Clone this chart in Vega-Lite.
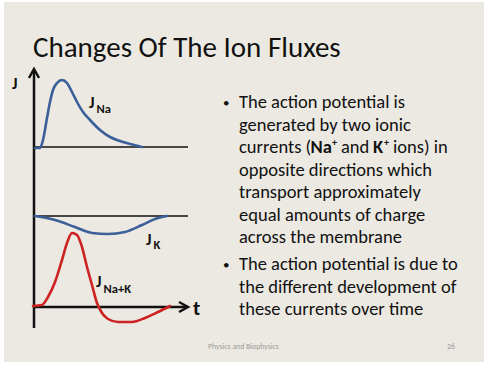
{
  "$schema": "https://vega.github.io/schema/vega-lite/v6.json",
  "width": 491,
  "height": 374,
  "autosize": {"type": "fit", "contains": "padding"},
  "padding": 0,
  "background": "white",
  "config": {"view": {"stroke": null}, "text": {"font": "Calibri, Carlito, Lato", "baseline": "alphabetic", "align": "left", "color": "#111111"}},
  "encoding": {
    "x": {"field": "x", "type": "quantitative", "scale": {"domain": [0, 491], "nice": false, "zero": false}, "axis": null},
    "y": {"field": "y", "type": "quantitative", "scale": {"domain": [0, 374], "reverse": true, "nice": false, "zero": false}, "axis": null}
  },
  "layer": [
    {
      "data": {"values": [{"x": 4, "y": 2, "x2": 484, "y2": 362}]},
      "mark": {"type": "rect", "color": "#ece9e2"},
      "encoding": {"x2": {"field": "x2"}, "y2": {"field": "y2"}}
    },
    {
      "data": {"values": [
        {"x": 34, "y": 147, "x2": 188, "y2": 147},
        {"x": 34, "y": 216, "x2": 188, "y2": 216}
      ]},
      "mark": {"type": "rule", "color": "#111111", "strokeWidth": 1.4},
      "encoding": {"x2": {"field": "x2"}, "y2": {"field": "y2"}}
    },
    {
      "data": {"values": [
        {"x": 34, "y": 70, "x2": 34, "y2": 328},
        {"x": 33, "y": 307, "x2": 187, "y2": 307}
      ]},
      "mark": {"type": "rule", "color": "#111111", "strokeWidth": 2.5},
      "encoding": {"x2": {"field": "x2"}, "y2": {"field": "y2"}}
    },
    {
      "data": {"values": [{"x": 34, "y": 69}]},
      "mark": {"type": "point", "shape": "M-1,1.8L0,0L1,1.8", "size": 100, "filled": false, "stroke": "#111111", "strokeWidth": 2.5, "opacity": 1}
    },
    {
      "data": {"values": [{"x": 188, "y": 307}]},
      "mark": {"type": "point", "shape": "M-1.8,-1L0,0L-1.8,1", "size": 100, "filled": false, "stroke": "#111111", "strokeWidth": 2.5, "opacity": 1}
    },
    {
      "data": {"values": [
        {"s": "Na", "x": 35, "y": 148}, {"s": "Na", "x": 40, "y": 148}, {"s": "Na", "x": 43, "y": 140},
        {"s": "Na", "x": 47, "y": 118}, {"s": "Na", "x": 50, "y": 102}, {"s": "Na", "x": 53, "y": 90},
        {"s": "Na", "x": 57, "y": 83}, {"s": "Na", "x": 62, "y": 80}, {"s": "Na", "x": 67, "y": 83},
        {"s": "Na", "x": 72, "y": 92}, {"s": "Na", "x": 77, "y": 102}, {"s": "Na", "x": 83, "y": 112},
        {"s": "Na", "x": 90, "y": 120}, {"s": "Na", "x": 100, "y": 130}, {"s": "Na", "x": 110, "y": 137},
        {"s": "Na", "x": 120, "y": 141}, {"s": "Na", "x": 130, "y": 144}, {"s": "Na", "x": 142, "y": 147},
        {"s": "K", "x": 35, "y": 216}, {"s": "K", "x": 55, "y": 220}, {"s": "K", "x": 75, "y": 227},
        {"s": "K", "x": 92, "y": 233}, {"s": "K", "x": 108, "y": 234}, {"s": "K", "x": 125, "y": 232},
        {"s": "K", "x": 142, "y": 225}, {"s": "K", "x": 155, "y": 219}, {"s": "K", "x": 167, "y": 216},
        {"s": "NaK", "x": 33, "y": 306}, {"s": "NaK", "x": 42, "y": 305}, {"s": "NaK", "x": 48, "y": 297},
        {"s": "NaK", "x": 55, "y": 282}, {"s": "NaK", "x": 62, "y": 260}, {"s": "NaK", "x": 67, "y": 243},
        {"s": "NaK", "x": 72, "y": 233}, {"s": "NaK", "x": 77, "y": 235}, {"s": "NaK", "x": 82, "y": 247},
        {"s": "NaK", "x": 87, "y": 267}, {"s": "NaK", "x": 92, "y": 285}, {"s": "NaK", "x": 97, "y": 303},
        {"s": "NaK", "x": 102, "y": 313}, {"s": "NaK", "x": 108, "y": 319}, {"s": "NaK", "x": 118, "y": 322},
        {"s": "NaK", "x": 132, "y": 322}, {"s": "NaK", "x": 145, "y": 318}, {"s": "NaK", "x": 158, "y": 312},
        {"s": "NaK", "x": 170, "y": 306}
      ]},
      "mark": {"type": "line", "interpolate": "monotone", "strokeWidth": 2.6, "strokeCap": "round"},
      "encoding": {
        "color": {"field": "s", "type": "nominal", "scale": {"domain": ["Na", "K", "NaK"], "range": ["#3b5f99", "#3b5f99", "#cc2222"]}, "legend": null}
      }
    },
    {
      "data": {"values": [
        {"x": 12, "y": 89, "text": "J"},
        {"x": 89, "y": 108, "text": "J"},
        {"x": 146, "y": 245, "text": "J"},
        {"x": 96, "y": 287, "text": "J"}
      ]},
      "mark": {"type": "text", "fontSize": 16.5, "fontWeight": "bold"},
      "encoding": {"text": {"field": "text"}}
    },
    {
      "data": {"values": [
        {"x": 96.5, "y": 113, "text": "Na"},
        {"x": 153.5, "y": 249, "text": "K"},
        {"x": 103.5, "y": 293, "text": "Na+K"}
      ]},
      "mark": {"type": "text", "fontSize": 12.5, "fontWeight": "bold"},
      "encoding": {"text": {"field": "text"}}
    },
    {
      "data": {"values": [{"x": 193, "y": 315, "text": "t"}]},
      "mark": {"type": "text", "fontSize": 21, "fontWeight": "bold"},
      "encoding": {"text": {"field": "text"}}
    },
    {
      "data": {"values": [{"x": 33, "y": 57, "text": "Changes Of The Ion Fluxes"}]},
      "mark": {"type": "text", "fontSize": 29},
      "encoding": {"text": {"field": "text"}}
    },
    {
      "data": {"values": [
        {"x": 223, "y": 107, "text": "•"},
        {"x": 223, "y": 269, "text": "•"}
      ]},
      "mark": {"type": "text", "fontSize": 13},
      "encoding": {"text": {"field": "text"}}
    },
    {
      "data": {"values": [
        {"x": 239, "y": 108, "text": "The action potential is"},
        {"x": 239, "y": 130.5, "text": "generated by two ionic"},
        {"x": 239, "y": 153, "text": "currents ("},
        {"x": 341, "y": 153, "text": "and"},
        {"x": 393, "y": 153, "text": "ions) in"},
        {"x": 239, "y": 175.5, "text": "opposite directions which"},
        {"x": 239, "y": 198, "text": "transport approximately"},
        {"x": 239, "y": 220.5, "text": "equal amounts of charge"},
        {"x": 239, "y": 243, "text": "across the membrane"},
        {"x": 239, "y": 270, "text": "The action potential is due to"},
        {"x": 239, "y": 292.5, "text": "the different development of"},
        {"x": 239, "y": 315, "text": "these currents over time"}
      ]},
      "mark": {"type": "text", "fontSize": 18.5},
      "encoding": {"text": {"field": "text"}}
    },
    {
      "data": {"values": [
        {"x": 310.5, "y": 153, "text": "Na"},
        {"x": 373, "y": 153, "text": "K"}
      ]},
      "mark": {"type": "text", "fontSize": 18.5, "fontWeight": "bold"},
      "encoding": {"text": {"field": "text"}}
    },
    {
      "data": {"values": [
        {"x": 332, "y": 146, "text": "+"},
        {"x": 384, "y": 146, "text": "+"}
      ]},
      "mark": {"type": "text", "fontSize": 10, "fontWeight": "bold"},
      "encoding": {"text": {"field": "text"}}
    },
    {
      "data": {"values": [
        {"x": 208, "y": 349, "text": "Physics and Biophysics"},
        {"x": 447, "y": 349, "text": "26"}
      ]},
      "mark": {"type": "text", "fontSize": 7.8, "color": "#999999"},
      "encoding": {"text": {"field": "text"}}
    }
  ]
}
